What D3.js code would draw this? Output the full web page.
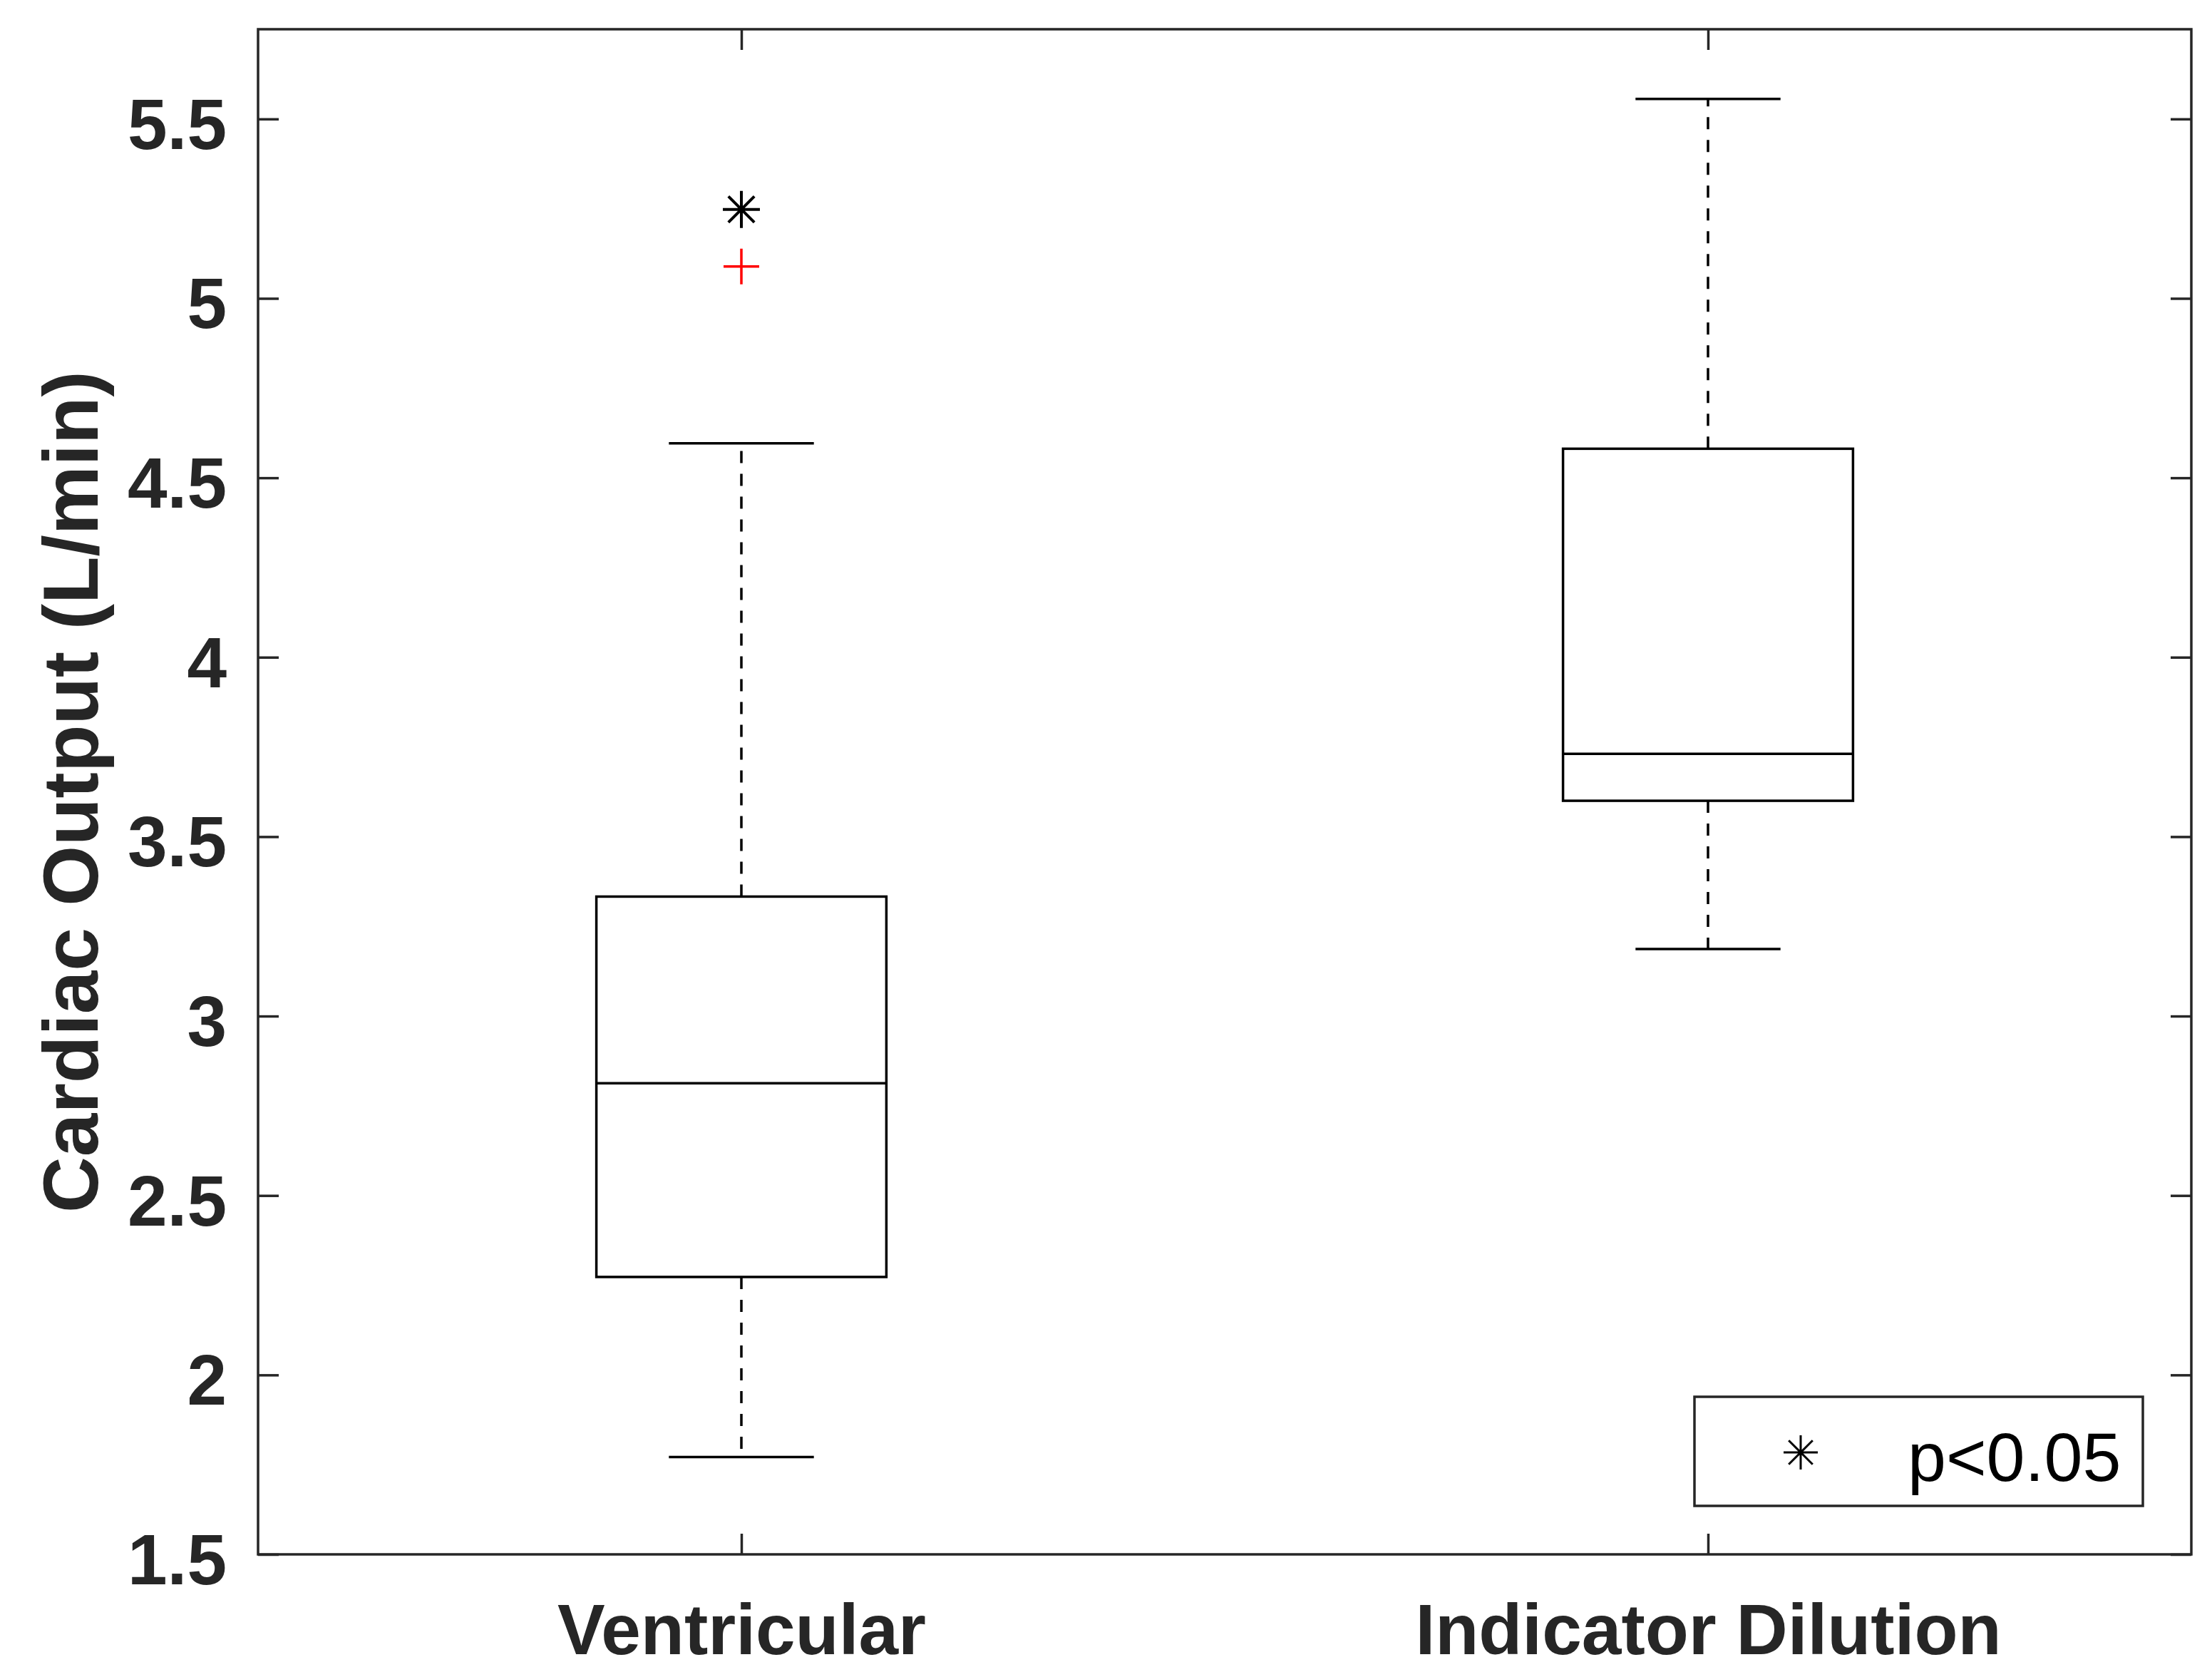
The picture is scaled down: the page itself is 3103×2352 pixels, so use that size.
<!DOCTYPE html>
<html lang="en">
<head>
    <meta charset="UTF-8">
    <title>Cardiac Output</title>
    <script src="https://cdn.jsdelivr.net/npm/d3@7"></script>
    <style>
        body { margin: 0; background: #fff; }
        svg { display: block; }
    </style>
</head>
<body>
<script>

    var width = 3103;
    var height = 2352;

    // data
    var categories = ["Ventricular", "Indicator Dilution"];
    var whiskerLow = [1.771, 3.187];
    var q1 = [2.273, 3.600];
    var median = [2.813, 3.731];
    var q3 = [3.333, 4.581];
    var whiskerHigh = [4.596, 5.556];

    var outlierCategory = ["Ventricular"];
    var outlierValue = [5.089];

    var sigCategory = ["Ventricular"];
    var sigValue = [5.248];

    var yTicks = [1.5, 2, 2.5, 3, 3.5, 4, 4.5, 5, 5.5];
    var legendLabel = "p<0.05";

    var plot = {left: 362, right: 3074, top: 41, bottom: 2180};
    var ink = "#262626";

    var svg = d3.select('body')
        .append('svg')
        .attr('width', width)
        .attr('height', height);

    var x = d3.scalePoint()
        .domain(categories)
        .range([plot.left, plot.right])
        .padding(0.5);

    var y = d3.scaleLinear()
        .domain([1.5, 5.75])
        .range([plot.bottom, plot.top]);

    var step = x.step();
    var boxW = step * 0.3;
    var capW = step * 0.15;

    // axes frame
    svg.append('rect')
        .attr('x', plot.left)
        .attr('y', plot.top)
        .attr('width', plot.right - plot.left)
        .attr('height', plot.bottom - plot.top)
        .attr('fill', 'none')
        .attr('stroke', ink)
        .attr('stroke-width', 3.5);

    var tickLen = 29;
    var fmt = d3.format("~g");

    var yAxis = d3.axisLeft(y)
        .tickValues(yTicks)
        .tickFormat(fmt)
        .tickSize(-tickLen)
        .tickPadding(44);

    var gy = svg.append('g')
        .attr('transform', 'translate(' + plot.left + ',0)')
        .call(yAxis);

    var yAxisR = d3.axisRight(y)
        .tickValues(yTicks)
        .tickFormat('')
        .tickSize(-tickLen);

    var gyr = svg.append('g')
        .attr('transform', 'translate(' + plot.right + ',0)')
        .call(yAxisR);

    var xAxis = d3.axisBottom(x)
        .tickSize(-tickLen)
        .tickPadding(0);

    var gx = svg.append('g')
        .attr('transform', 'translate(0,' + plot.bottom + ')')
        .call(xAxis);

    var xAxisT = d3.axisTop(x)
        .tickFormat('')
        .tickSize(-tickLen);

    var gxt = svg.append('g')
        .attr('transform', 'translate(0,' + plot.top + ')')
        .call(xAxisT);

    [gy, gyr, gx, gxt].forEach(function (g) {
        g.select('.domain').remove();
        g.selectAll('.tick line')
            .attr('stroke', ink)
            .attr('stroke-width', 3.5);
    });

    gy.selectAll('.tick text')
        .attr('fill', ink)
        .attr('dy', '0.415em')
        .style('font-family', '"Liberation Sans", Arial, sans-serif')
        .style('font-weight', 'bold')
        .style('font-size', '100px');

    gx.selectAll('.tick text')
        .attr('fill', ink)
        .attr('y', 140)
        .attr('dy', 0)
        .style('font-family', '"Liberation Sans", Arial, sans-serif')
        .style('font-weight', 'bold')
        .style('font-size', '100px');

    // y axis title
    svg.append('text')
        .attr('transform', 'translate(137,' + (plot.top + plot.bottom) / 2 + ') rotate(-90)')
        .attr('text-anchor', 'middle')
        .attr('fill', ink)
        .style('font-family', '"Liberation Sans", Arial, sans-serif')
        .style('font-weight', 'bold')
        .style('font-size', '109px')
        .text('Cardiac Output (L/min)');

    var idx = d3.range(categories.length);
    var boxes = svg.append('g').attr('class', 'boxes');

    // whiskers (dashed)
    boxes.selectAll('line.whisker-up')
        .data(idx)
        .enter()
        .append('line')
        .attr('x1', function (i) { return x(categories[i]); })
        .attr('x2', function (i) { return x(categories[i]); })
        .attr('y1', function (i) { return y(q3[i]); })
        .attr('y2', function (i) { return y(whiskerHigh[i]); })
        .attr('stroke', '#000')
        .attr('stroke-width', 3.5)
        .attr('stroke-dasharray', '17,15');

    boxes.selectAll('line.whisker-down')
        .data(idx)
        .enter()
        .append('line')
        .attr('x1', function (i) { return x(categories[i]); })
        .attr('x2', function (i) { return x(categories[i]); })
        .attr('y1', function (i) { return y(q1[i]); })
        .attr('y2', function (i) { return y(whiskerLow[i]); })
        .attr('stroke', '#000')
        .attr('stroke-width', 3.5)
        .attr('stroke-dasharray', '17,15');

    // whisker caps
    [whiskerHigh, whiskerLow].forEach(function (arr) {
        boxes.selectAll(null)
            .data(idx)
            .enter()
            .append('line')
            .attr('x1', function (i) { return x(categories[i]) - capW / 2; })
            .attr('x2', function (i) { return x(categories[i]) + capW / 2; })
            .attr('y1', function (i) { return y(arr[i]); })
            .attr('y2', function (i) { return y(arr[i]); })
            .attr('stroke', '#000')
            .attr('stroke-width', 3.5);
    });

    // boxes
    boxes.selectAll('rect')
        .data(idx)
        .enter()
        .append('rect')
        .attr('x', function (i) { return x(categories[i]) - boxW / 2; })
        .attr('y', function (i) { return y(q3[i]); })
        .attr('width', boxW)
        .attr('height', function (i) { return y(q1[i]) - y(q3[i]); })
        .attr('fill', 'none')
        .attr('stroke', '#000')
        .attr('stroke-width', 3.5);

    // medians
    boxes.selectAll('line.median')
        .data(idx)
        .enter()
        .append('line')
        .attr('x1', function (i) { return x(categories[i]) - boxW / 2; })
        .attr('x2', function (i) { return x(categories[i]) + boxW / 2; })
        .attr('y1', function (i) { return y(median[i]); })
        .attr('y2', function (i) { return y(median[i]); })
        .attr('stroke', '#000')
        .attr('stroke-width', 3.5);

    function plusPath(cx, cy, r) {
        return 'M' + (cx - r) + ',' + cy + 'H' + (cx + r) +
            'M' + cx + ',' + (cy - r) + 'V' + (cy + r);
    }

    function starPath(cx, cy, r) {
        var d = r * 0.7;
        return plusPath(cx, cy, r) +
            'M' + (cx - d) + ',' + (cy - d) + 'L' + (cx + d) + ',' + (cy + d) +
            'M' + (cx - d) + ',' + (cy + d) + 'L' + (cx + d) + ',' + (cy - d);
    }

    // outliers
    svg.selectAll('path.outlier')
        .data(outlierValue)
        .enter()
        .append('path')
        .attr('d', function (d, i) { return plusPath(x(outlierCategory[i]), y(d), 25); })
        .attr('stroke', '#ff0000')
        .attr('stroke-width', 3.5)
        .attr('fill', 'none');

    // significance marker
    svg.selectAll('path.sig')
        .data(sigValue)
        .enter()
        .append('path')
        .attr('d', function (d, i) { return starPath(x(sigCategory[i]), y(d), 26); })
        .attr('stroke', '#000')
        .attr('stroke-width', 4)
        .attr('fill', 'none');

    // legend
    var legend = svg.append('g')
        .attr('transform', 'translate(2377,1959)');

    legend.append('rect')
        .attr('width', 629)
        .attr('height', 153)
        .attr('fill', '#fff')
        .attr('stroke', ink)
        .attr('stroke-width', 3.5);

    legend.append('path')
        .attr('d', starPath(149, 78, 24))
        .attr('stroke', '#000')
        .attr('stroke-width', 3)
        .attr('fill', 'none');

    legend.append('text')
        .attr('x', 299)
        .attr('y', 118)
        .attr('fill', '#000')
        .style('font-family', '"Liberation Sans", Arial, sans-serif')
        .style('font-size', '97px')
        .text(legendLabel);

</script>
</body>
</html>
